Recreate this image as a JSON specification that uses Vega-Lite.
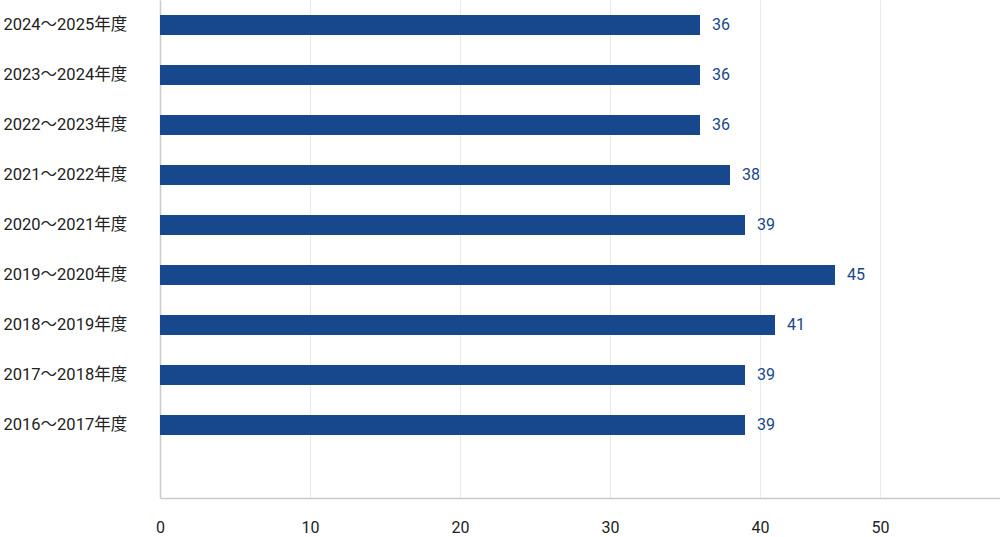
{
  "$schema": "https://vega.github.io/schema/vega-lite/v6.json",
  "autosize": "none",
  "width": 840,
  "height": 498,
  "padding": {"left": 160, "top": 0, "right": 0, "bottom": 39},
  "background": "white",
  "data": {"values": [
    {"period": "2024〜2025年度", "value": 36},
    {"period": "2023〜2024年度", "value": 36},
    {"period": "2022〜2023年度", "value": 36},
    {"period": "2021〜2022年度", "value": 38},
    {"period": "2020〜2021年度", "value": 39},
    {"period": "2019〜2020年度", "value": 45},
    {"period": "2018〜2019年度", "value": 41},
    {"period": "2017〜2018年度", "value": 39},
    {"period": "2016〜2017年度", "value": 39}
  ]},
  "config": {
    "view": {"stroke": null},
    "font": "Roboto, 'Noto Sans CJK JP'"
  },
  "encoding": {
    "y": {
      "field": "period", "type": "nominal", "sort": null, "title": null,
      "scale": {"paddingInner": 0.6, "paddingOuter": 0.78, "align": 0.1923},
      "axis": {
        "ticks": false, "domainColor": "#cccccc", "domainWidth": 1.5,
        "labelAlign": "left", "labelPadding": 157, "labelFontSize": 16.5,
        "labelColor": "#222222", "labelFont": "Roboto, 'Noto Sans CJK JP'",
        "labelFontWeight": "normal", "grid": false
      }
    },
    "x": {
      "field": "value", "type": "quantitative", "title": null,
      "scale": {"domain": [0, 56], "nice": false},
      "axis": {
        "values": [0, 10, 20, 30, 40, 48],
        "labelExpr": "datum.value == 48 ? '50' : datum.label",
        "ticks": false, "domainColor": "#cccccc", "domainWidth": 1.5,
        "gridColor": "#eaeaea", "labelFontSize": 16, "labelColor": "#222222",
        "labelPadding": 21, "labelFont": "Roboto", "labelFlush": false,
        "labelFontWeight": "normal"
      }
    }
  },
  "layer": [
    {"mark": {"type": "bar", "color": "#17478c"}},
    {"mark": {"type": "text", "align": "left", "dx": 12, "fontSize": 16, "color": "#17478c", "fontWeight": "normal", "font": "Roboto"},
     "encoding": {"text": {"field": "value", "type": "quantitative"}}}
  ]
}
